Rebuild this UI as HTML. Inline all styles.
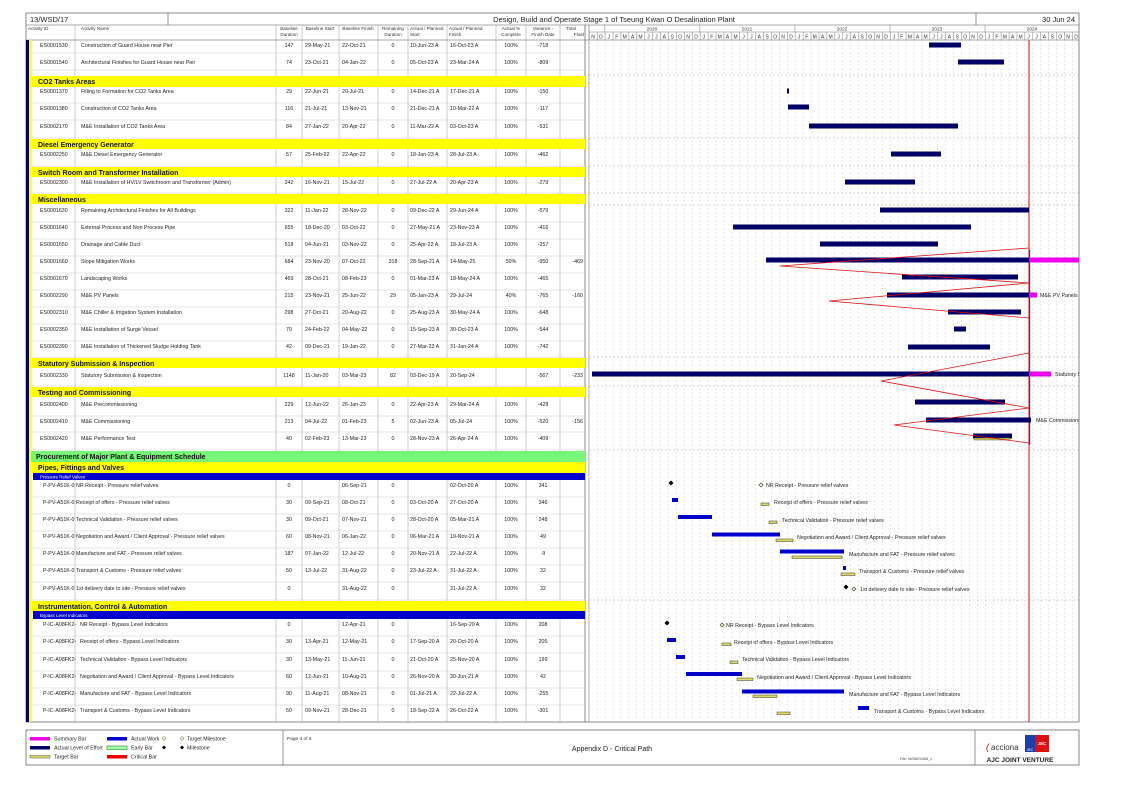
<!DOCTYPE html>
<html><head><meta charset="utf-8">
<style>
html,body{margin:0;padding:0;background:#fff;}
svg{display:block;font-family:"Liberation Sans",sans-serif;}
.t{font-size:5.3px;fill:#222;}
.c{font-size:5.3px;fill:#222;text-anchor:middle;}
.h{font-size:4.6px;fill:#333;}
.hc{font-size:4.6px;fill:#333;text-anchor:middle;}
.g{font-size:7px;font-weight:bold;fill:#111;}
.l{font-size:5.3px;fill:#222;}
</style></head><body>
<svg width="1123" height="794" viewBox="0 0 1123 794" xmlns="http://www.w3.org/2000/svg">
<defs>
<pattern id="vg" x="589" y="0" width="7.92" height="4" patternUnits="userSpaceOnUse">
<line x1="0.3" y1="0" x2="0.3" y2="2" stroke="#ccc" stroke-width="0.5"/>
</pattern>
<pattern id="mg" x="589" y="0" width="7.92" height="10" patternUnits="userSpaceOnUse">
<line x1="0.3" y1="0" x2="0.3" y2="10" stroke="#777" stroke-width="0.5"/>
</pattern>
<clipPath id="cc"><rect x="587" y="40" width="492" height="682"/></clipPath>
</defs>
<rect width="1123" height="794" fill="#fff"/>
<rect x="26" y="13" width="1053" height="709" fill="none" stroke="#555" stroke-width="0.7"/>
<line x1="26" y1="25" x2="1079" y2="25" stroke="#555" stroke-width="0.6"/>
<line x1="168" y1="13" x2="168" y2="25" stroke="#555" stroke-width="0.6"/>
<line x1="976" y1="13" x2="976" y2="25" stroke="#555" stroke-width="0.6"/>
<text x="30" y="22" font-size="7.5" fill="#222">13/WSD/17</text>
<text x="614" y="22" font-size="7.5" fill="#222" text-anchor="middle">Design, Build and Operate Stage 1 of Tseung Kwan O Desalination Plant</text>
<text x="1075" y="22" font-size="7.5" fill="#222" text-anchor="end">30 Jun 24</text>
<line x1="26" y1="40" x2="1079" y2="40" stroke="#555" stroke-width="0.6"/>
<g stroke="#999" stroke-width="0.5">
<line x1="75" y1="25" x2="75" y2="722"/>
<line x1="276" y1="25" x2="276" y2="722"/>
<line x1="302" y1="25" x2="302" y2="722"/>
<line x1="339" y1="25" x2="339" y2="722"/>
<line x1="378" y1="25" x2="378" y2="722"/>
<line x1="408" y1="25" x2="408" y2="722"/>
<line x1="447" y1="25" x2="447" y2="722"/>
<line x1="496" y1="25" x2="496" y2="722"/>
<line x1="526" y1="25" x2="526" y2="722"/>
<line x1="560" y1="25" x2="560" y2="722"/>
</g>
<line x1="585" y1="25" x2="585" y2="722" stroke="#555" stroke-width="0.7"/>
<line x1="589" y1="25" x2="589" y2="722" stroke="#555" stroke-width="0.5"/>
<text class="h" x="28" y="30">Activity ID</text>
<text class="h" x="81" y="30">Activity Name</text>
<text class="hc" x="289" y="30">Baseline</text><text class="hc" x="289" y="36">Duration</text>
<text class="hc" x="320" y="30">Baseline Start</text>
<text class="hc" x="358" y="30">Baseline Finish</text>
<text class="hc" x="393" y="30">Remaining</text><text class="hc" x="393" y="36">Duration</text>
<text class="h" x="410" y="30">Actual / Planned</text><text class="h" x="410" y="36">Start</text>
<text class="h" x="449" y="30">Actual / Planned</text><text class="h" x="449" y="36">Finish</text>
<text class="hc" x="511" y="30">Actual %</text><text class="hc" x="511" y="36">Complete</text>
<text class="hc" x="543" y="30">Variance -</text><text class="hc" x="543" y="36">Finish Date</text>
<text class="h" x="576" y="30" text-anchor="end">Total</text><text class="h" x="584" y="36" text-anchor="end">Float</text>
<line x1="589" y1="32" x2="1079" y2="32" stroke="#777" stroke-width="0.5"/>
<rect x="589" y="32" width="490" height="8" fill="url(#mg)"/>
<g stroke="#777" stroke-width="0.5">
<line x1="604.8" y1="25" x2="604.8" y2="32"/><line x1="699.9" y1="25" x2="699.9" y2="32"/>
<line x1="794.9" y1="25" x2="794.9" y2="32"/><line x1="890" y1="25" x2="890" y2="32"/><line x1="985" y1="25" x2="985" y2="32"/>
</g>
<g font-size="4.8" fill="#333" text-anchor="middle">
<text x="652" y="30.5">2020</text><text x="747" y="30.5">2021</text><text x="842" y="30.5">2022</text><text x="937" y="30.5">2023</text><text x="1032" y="30.5">2024</text>
</g>
<text font-size="5" fill="#333" text-anchor="middle" y="38.5" x="593 600.9 608.8 616.8 624.7 632.6 640.5 648.4 656.4 664.3 672.2 680.1 688 696 703.9 711.8 719.7 727.6 735.6 743.5 751.4 759.3 767.2 775.1 783.1 791 798.9 806.8 814.7 822.7 830.6 838.5 846.4 854.3 862.2 870.2 878.1 886 893.9 901.8 909.8 917.7 925.6 933.5 941.4 949.4 957.3 965.2 973.1 981 988.9 996.9 1004.8 1012.7 1020.6 1028.5 1036.5 1044.4 1052.3 1060.2 1068.1 1076.1">NDJFMAMJJASONDJFMAMJJASONDJFMAMJJASONDJFMAMJJASONDJFMAMJJASOND</text>
<rect x="589" y="40" width="490" height="682" fill="url(#vg)"/>
<g stroke="#aaa" stroke-width="0.5" stroke-dasharray="2,2">
<line x1="589" y1="75" x2="1079" y2="75"/><line x1="589" y1="138" x2="1079" y2="138"/>
<line x1="589" y1="166" x2="1079" y2="166"/><line x1="589" y1="193" x2="1079" y2="193"/>
<line x1="589" y1="205" x2="1079" y2="205"/><line x1="589" y1="357" x2="1079" y2="357"/>
<line x1="589" y1="386" x2="1079" y2="386"/><line x1="589" y1="450" x2="1079" y2="450"/>
<line x1="589" y1="600" x2="1079" y2="600"/>
</g>
<rect x="26" y="40" width="3" height="682" fill="#000066"/>
<rect x="29" y="40" width="2.5" height="682" fill="#ffff00"/>
<g stroke="#ccc" stroke-width="0.5">
<line x1="32" y1="53" x2="585" y2="53"/><line x1="32" y1="70" x2="585" y2="70"/>
<line x1="32" y1="103" x2="585" y2="103"/><line x1="32" y1="120" x2="585" y2="120"/><line x1="32" y1="138" x2="585" y2="138"/>
<line x1="32" y1="166" x2="585" y2="166"/><line x1="32" y1="193" x2="585" y2="193"/>
<line x1="32" y1="222" x2="585" y2="222"/><line x1="32" y1="239" x2="585" y2="239"/><line x1="32" y1="256" x2="585" y2="256"/>
<line x1="32" y1="273" x2="585" y2="273"/><line x1="32" y1="290" x2="585" y2="290"/><line x1="32" y1="307" x2="585" y2="307"/>
<line x1="32" y1="324" x2="585" y2="324"/><line x1="32" y1="341" x2="585" y2="341"/><line x1="32" y1="357" x2="585" y2="357"/>
<line x1="32" y1="386" x2="585" y2="386"/><line x1="32" y1="416" x2="585" y2="416"/><line x1="32" y1="432" x2="585" y2="432"/><line x1="32" y1="450" x2="585" y2="450"/>
<line x1="32" y1="497" x2="585" y2="497"/><line x1="32" y1="514" x2="585" y2="514"/><line x1="32" y1="531" x2="585" y2="531"/>
<line x1="32" y1="548" x2="585" y2="548"/><line x1="32" y1="565" x2="585" y2="565"/><line x1="32" y1="582" x2="585" y2="582"/><line x1="32" y1="600" x2="585" y2="600"/>
<line x1="32" y1="636" x2="585" y2="636"/><line x1="32" y1="653" x2="585" y2="653"/><line x1="32" y1="671" x2="585" y2="671"/>
<line x1="32" y1="688" x2="585" y2="688"/><line x1="32" y1="705" x2="585" y2="705"/>
</g>
<rect x="32" y="76" width="553" height="11" fill="#ffff00"/><text class="g" x="38" y="84">CO2 Tanks Areas</text>
<rect x="32" y="139" width="553" height="10" fill="#ffff00"/><text class="g" x="38" y="147">Diesel Emergency Generator</text>
<rect x="32" y="167" width="553" height="10" fill="#ffff00"/><text class="g" x="38" y="175">Switch Room and Transformer Installation</text>
<rect x="32" y="194" width="553" height="10" fill="#ffff00"/><text class="g" x="38" y="202">Miscellaneous</text>
<rect x="32" y="358" width="553" height="10" fill="#ffff00"/><text class="g" x="38" y="366">Statutory Submission &amp; Inspection</text>
<rect x="32" y="387" width="553" height="10" fill="#ffff00"/><text class="g" x="38" y="395">Testing and Commissioning</text>
<rect x="31" y="451" width="554" height="11" fill="#77f777"/><text class="g" x="36" y="459">Procurement of Major Plant &amp; Equipment Schedule</text>
<rect x="32" y="462" width="553" height="11" fill="#ffff00"/><text class="g" x="38" y="470">Pipes, Fittings and Valves</text>
<rect x="33" y="473" width="552" height="7" fill="#0000cc"/><text x="40" y="478.5" font-size="4.5" fill="#fff">Pressure Relief Valves</text>
<rect x="32" y="601" width="553" height="10" fill="#ffff00"/><text class="g" x="38" y="609">Instrumentation, Control &amp; Automation</text>
<rect x="33" y="611" width="552" height="8" fill="#0000cc"/><text x="40" y="617" font-size="4.5" fill="#fff">Bypass Level Indicators</text>
<g>
<text class="t" x="40" y="47">ES0001530</text><text class="t" x="81" y="47">Construction of Guard House near Pier</text><text class="c" x="289" y="47">147</text><text class="t" x="305" y="47">29-May-21</text><text class="t" x="342" y="47">22-Oct-21</text><text class="c" x="393" y="47">0</text><text class="t" x="410" y="47">10-Jun-23 A</text><text class="t" x="450" y="47">16-Oct-23 A</text><text class="c" x="511" y="47">100%</text><text class="c" x="543" y="47">-718</text>
<text class="t" x="40" y="64">ES0001540</text><text class="t" x="81" y="64">Architectural Finishes for Guard House near Pier</text><text class="c" x="289" y="64">74</text><text class="t" x="305" y="64">23-Oct-21</text><text class="t" x="342" y="64">04-Jan-22</text><text class="c" x="393" y="64">0</text><text class="t" x="410" y="64">05-Oct-23 A</text><text class="t" x="450" y="64">23-Mar-24 A</text><text class="c" x="511" y="64">100%</text><text class="c" x="543" y="64">-809</text>
<text class="t" x="40" y="93">ES0001370</text><text class="t" x="81" y="93">Filling to Formation for CO2 Tanks Area</text><text class="c" x="289" y="93">29</text><text class="t" x="305" y="93">22-Jun-21</text><text class="t" x="342" y="93">20-Jul-21</text><text class="c" x="393" y="93">0</text><text class="t" x="410" y="93">14-Dec-21 A</text><text class="t" x="450" y="93">17-Dec-21 A</text><text class="c" x="511" y="93">100%</text><text class="c" x="543" y="93">-150</text>
<text class="t" x="40" y="110">ES0001380</text><text class="t" x="81" y="110">Construction of CO2 Tanks Area</text><text class="c" x="289" y="110">116</text><text class="t" x="305" y="110">21-Jul-21</text><text class="t" x="342" y="110">13-Nov-21</text><text class="c" x="393" y="110">0</text><text class="t" x="410" y="110">21-Dec-21 A</text><text class="t" x="450" y="110">10-Mar-22 A</text><text class="c" x="511" y="110">100%</text><text class="c" x="543" y="110">-117</text>
<text class="t" x="40" y="128">ES0002170</text><text class="t" x="81" y="128">M&amp;E Installation of CO2 Tanks Area</text><text class="c" x="289" y="128">84</text><text class="t" x="305" y="128">27-Jan-22</text><text class="t" x="342" y="128">20-Apr-22</text><text class="c" x="393" y="128">0</text><text class="t" x="410" y="128">11-Mar-22 A</text><text class="t" x="450" y="128">03-Oct-23 A</text><text class="c" x="511" y="128">100%</text><text class="c" x="543" y="128">-531</text>
<text class="t" x="40" y="156">ES0002250</text><text class="t" x="81" y="156">M&amp;E Diesel Emergency Generator</text><text class="c" x="289" y="156">57</text><text class="t" x="305" y="156">25-Feb-22</text><text class="t" x="342" y="156">22-Apr-22</text><text class="c" x="393" y="156">0</text><text class="t" x="410" y="156">18-Jan-23 A</text><text class="t" x="450" y="156">28-Jul-23 A</text><text class="c" x="511" y="156">100%</text><text class="c" x="543" y="156">-462</text>
<text class="t" x="40" y="184">ES0002300</text><text class="t" x="81" y="184">M&amp;E Installation of HV/LV Switchroom and Transformer (Admin)</text><text class="c" x="289" y="184">242</text><text class="t" x="305" y="184">16-Nov-21</text><text class="t" x="342" y="184">15-Jul-22</text><text class="c" x="393" y="184">0</text><text class="t" x="410" y="184">27-Jul-22 A</text><text class="t" x="450" y="184">20-Apr-23 A</text><text class="c" x="511" y="184">100%</text><text class="c" x="543" y="184">-279</text>
<text class="t" x="40" y="212">ES0001630</text><text class="t" x="81" y="212">Remaining Architectural Finishes for All Buildings</text><text class="c" x="289" y="212">322</text><text class="t" x="305" y="212">11-Jan-22</text><text class="t" x="342" y="212">28-Nov-22</text><text class="c" x="393" y="212">0</text><text class="t" x="410" y="212">09-Dec-22 A</text><text class="t" x="450" y="212">29-Jun-24 A</text><text class="c" x="511" y="212">100%</text><text class="c" x="543" y="212">-579</text>
<text class="t" x="40" y="229">ES0001640</text><text class="t" x="81" y="229">External Process and Non Process Pipe</text><text class="c" x="289" y="229">655</text><text class="t" x="305" y="229">18-Dec-20</text><text class="t" x="342" y="229">03-Oct-22</text><text class="c" x="393" y="229">0</text><text class="t" x="410" y="229">27-May-21 A</text><text class="t" x="450" y="229">23-Nov-23 A</text><text class="c" x="511" y="229">100%</text><text class="c" x="543" y="229">-416</text>
<text class="t" x="40" y="246">ES0001650</text><text class="t" x="81" y="246">Drainage and Cable Duct</text><text class="c" x="289" y="246">518</text><text class="t" x="305" y="246">04-Jun-21</text><text class="t" x="342" y="246">03-Nov-22</text><text class="c" x="393" y="246">0</text><text class="t" x="410" y="246">25-Apr-22 A</text><text class="t" x="450" y="246">18-Jul-23 A</text><text class="c" x="511" y="246">100%</text><text class="c" x="543" y="246">-257</text>
<text class="t" x="40" y="263">ES0001660</text><text class="t" x="81" y="263">Slope Mitigation Works</text><text class="c" x="289" y="263">684</text><text class="t" x="305" y="263">23-Nov-20</text><text class="t" x="342" y="263">07-Oct-22</text><text class="c" x="393" y="263">318</text><text class="t" x="410" y="263">28-Sep-21 A</text><text class="t" x="450" y="263">14-May-25</text><text class="c" x="511" y="263">50%</text><text class="c" x="543" y="263">-950</text><text class="t" x="583" y="263" text-anchor="end">-469</text>
<text class="t" x="40" y="280">ES0001670</text><text class="t" x="81" y="280">Landscaping Works</text><text class="c" x="289" y="280">469</text><text class="t" x="305" y="280">28-Oct-21</text><text class="t" x="342" y="280">08-Feb-23</text><text class="c" x="393" y="280">0</text><text class="t" x="410" y="280">01-Mar-23 A</text><text class="t" x="450" y="280">18-May-24 A</text><text class="c" x="511" y="280">100%</text><text class="c" x="543" y="280">-465</text>
<text class="t" x="40" y="297">ES0002290</text><text class="t" x="81" y="297">M&amp;E PV Panels</text><text class="c" x="289" y="297">215</text><text class="t" x="305" y="297">23-Nov-21</text><text class="t" x="342" y="297">25-Jun-22</text><text class="c" x="393" y="297">29</text><text class="t" x="410" y="297">05-Jan-23 A</text><text class="t" x="450" y="297">29-Jul-24</text><text class="c" x="511" y="297">40%</text><text class="c" x="543" y="297">-765</text><text class="t" x="583" y="297" text-anchor="end">-160</text>
<text class="t" x="40" y="314">ES0002310</text><text class="t" x="81" y="314">M&amp;E Chiller &amp; Irrigation System Installation</text><text class="c" x="289" y="314">298</text><text class="t" x="305" y="314">27-Oct-21</text><text class="t" x="342" y="314">20-Aug-22</text><text class="c" x="393" y="314">0</text><text class="t" x="410" y="314">25-Aug-23 A</text><text class="t" x="450" y="314">30-May-24 A</text><text class="c" x="511" y="314">100%</text><text class="c" x="543" y="314">-648</text>
<text class="t" x="40" y="331">ES0002350</text><text class="t" x="81" y="331">M&amp;E Installation of Surge Vessel</text><text class="c" x="289" y="331">70</text><text class="t" x="305" y="331">24-Feb-22</text><text class="t" x="342" y="331">04-May-22</text><text class="c" x="393" y="331">0</text><text class="t" x="410" y="331">15-Sep-23 A</text><text class="t" x="450" y="331">30-Oct-23 A</text><text class="c" x="511" y="331">100%</text><text class="c" x="543" y="331">-544</text>
<text class="t" x="40" y="348">ES0002390</text><text class="t" x="81" y="348">M&amp;E Installation of Thickened Sludge Holding Tank</text><text class="c" x="289" y="348">42</text><text class="t" x="305" y="348">09-Dec-21</text><text class="t" x="342" y="348">19-Jan-22</text><text class="c" x="393" y="348">0</text><text class="t" x="410" y="348">27-Mar-23 A</text><text class="t" x="450" y="348">31-Jan-24 A</text><text class="c" x="511" y="348">100%</text><text class="c" x="543" y="348">-742</text>
<text class="t" x="40" y="377">ES0002330</text><text class="t" x="81" y="377">Statutory Submission &amp; Inspection</text><text class="c" x="289" y="377">1148</text><text class="t" x="305" y="377">11-Jan-20</text><text class="t" x="342" y="377">03-Mar-23</text><text class="c" x="393" y="377">82</text><text class="t" x="410" y="377">03-Dec-19 A</text><text class="t" x="450" y="377">20-Sep-24</text><text class="c" x="543" y="377">-567</text><text class="t" x="583" y="377" text-anchor="end">-233</text>
<text class="t" x="40" y="406">ES0002400</text><text class="t" x="81" y="406">M&amp;E Precommissioning</text><text class="c" x="289" y="406">229</text><text class="t" x="305" y="406">12-Jun-22</text><text class="t" x="342" y="406">26-Jan-23</text><text class="c" x="393" y="406">0</text><text class="t" x="410" y="406">22-Apr-23 A</text><text class="t" x="450" y="406">29-Mar-24 A</text><text class="c" x="511" y="406">100%</text><text class="c" x="543" y="406">-428</text>
<text class="t" x="40" y="423">ES0002410</text><text class="t" x="81" y="423">M&amp;E Commissioning</text><text class="c" x="289" y="423">213</text><text class="t" x="305" y="423">04-Jul-22</text><text class="t" x="342" y="423">01-Feb-23</text><text class="c" x="393" y="423">5</text><text class="t" x="410" y="423">02-Jun-23 A</text><text class="t" x="450" y="423">05-Jul-24</text><text class="c" x="511" y="423">100%</text><text class="c" x="543" y="423">-520</text><text class="t" x="583" y="423" text-anchor="end">-156</text>
<text class="t" x="40" y="440">ES0002420</text><text class="t" x="81" y="440">M&amp;E Performance Test</text><text class="c" x="289" y="440">40</text><text class="t" x="305" y="440">02-Feb-23</text><text class="t" x="342" y="440">13-Mar-23</text><text class="c" x="393" y="440">0</text><text class="t" x="410" y="440">28-Nov-23 A</text><text class="t" x="450" y="440">26-Apr-24 A</text><text class="c" x="511" y="440">100%</text><text class="c" x="543" y="440">-409</text>
<text class="t" x="43" y="487">P-PV-A51K-0</text><text class="t" x="76" y="487">NR Receipt - Pressure relief valves</text><text class="c" x="289" y="487">0</text><text class="t" x="342" y="487">06-Sep-21</text><text class="c" x="393" y="487">0</text><text class="t" x="450" y="487">02-Oct-20 A</text><text class="c" x="511" y="487">100%</text><text class="c" x="543" y="487">341</text>
<text class="t" x="43" y="504">P-PV-A51K-0</text><text class="t" x="76" y="504">Receipt of offers - Pressure relief valves</text><text class="c" x="289" y="504">30</text><text class="t" x="305" y="504">09-Sep-21</text><text class="t" x="342" y="504">08-Oct-21</text><text class="c" x="393" y="504">0</text><text class="t" x="410" y="504">03-Oct-20 A</text><text class="t" x="450" y="504">27-Oct-20 A</text><text class="c" x="511" y="504">100%</text><text class="c" x="543" y="504">346</text>
<text class="t" x="43" y="521">P-PV-A51K-0</text><text class="t" x="76" y="521">Technical Validation - Pressure relief valves</text><text class="c" x="289" y="521">30</text><text class="t" x="305" y="521">09-Oct-21</text><text class="t" x="342" y="521">07-Nov-21</text><text class="c" x="393" y="521">0</text><text class="t" x="410" y="521">28-Oct-20 A</text><text class="t" x="450" y="521">05-Mar-21 A</text><text class="c" x="511" y="521">100%</text><text class="c" x="543" y="521">248</text>
<text class="t" x="43" y="538">P-PV-A51K-0</text><text class="t" x="76" y="538">Negotiation and Award / Client Approval - Pressure relief valves</text><text class="c" x="289" y="538">60</text><text class="t" x="305" y="538">08-Nov-21</text><text class="t" x="342" y="538">06-Jan-22</text><text class="c" x="393" y="538">0</text><text class="t" x="410" y="538">06-Mar-21 A</text><text class="t" x="450" y="538">19-Nov-21 A</text><text class="c" x="511" y="538">100%</text><text class="c" x="543" y="538">49</text>
<text class="t" x="43" y="555">P-PV-A51K-0</text><text class="t" x="76" y="555">Manufacture and FAT - Pressure relief valves</text><text class="c" x="289" y="555">187</text><text class="t" x="305" y="555">07-Jan-22</text><text class="t" x="342" y="555">12-Jul-22</text><text class="c" x="393" y="555">0</text><text class="t" x="410" y="555">20-Nov-21 A</text><text class="t" x="450" y="555">22-Jul-22 A</text><text class="c" x="511" y="555">100%</text><text class="c" x="543" y="555">-9</text>
<text class="t" x="43" y="572">P-PV-A51K-0</text><text class="t" x="76" y="572">Transport &amp; Customs - Pressure relief valves</text><text class="c" x="289" y="572">50</text><text class="t" x="305" y="572">13-Jul-22</text><text class="t" x="342" y="572">31-Aug-22</text><text class="c" x="393" y="572">0</text><text class="t" x="410" y="572">23-Jul-22 A</text><text class="t" x="450" y="572">31-Jul-22 A</text><text class="c" x="511" y="572">100%</text><text class="c" x="543" y="572">32</text>
<text class="t" x="43" y="590">P-PV-A51K-0</text><text class="t" x="76" y="590">1st delivery date to site - Pressure relief valves</text><text class="c" x="289" y="590">0</text><text class="t" x="342" y="590">31-Aug-22</text><text class="c" x="393" y="590">0</text><text class="t" x="450" y="590">31-Jul-22 A</text><text class="c" x="511" y="590">100%</text><text class="c" x="543" y="590">32</text>
<text class="t" x="43" y="626">P-IC-A08FK2-</text><text class="t" x="80" y="626">NR Receipt - Bypass Level Indicators</text><text class="c" x="289" y="626">0</text><text class="t" x="342" y="626">12-Apr-21</text><text class="c" x="393" y="626">0</text><text class="t" x="450" y="626">16-Sep-20 A</text><text class="c" x="511" y="626">100%</text><text class="c" x="543" y="626">208</text>
<text class="t" x="43" y="643">P-IC-A08FK2-</text><text class="t" x="80" y="643">Receipt of offers - Bypass Level Indicators</text><text class="c" x="289" y="643">30</text><text class="t" x="305" y="643">13-Apr-21</text><text class="t" x="342" y="643">12-May-21</text><text class="c" x="393" y="643">0</text><text class="t" x="410" y="643">17-Sep-20 A</text><text class="t" x="450" y="643">20-Oct-20 A</text><text class="c" x="511" y="643">100%</text><text class="c" x="543" y="643">205</text>
<text class="t" x="43" y="661">P-IC-A08FK2-</text><text class="t" x="80" y="661">Technical Validation - Bypass Level Indicators</text><text class="c" x="289" y="661">30</text><text class="t" x="305" y="661">13-May-21</text><text class="t" x="342" y="661">11-Jun-21</text><text class="c" x="393" y="661">0</text><text class="t" x="410" y="661">21-Oct-20 A</text><text class="t" x="450" y="661">25-Nov-20 A</text><text class="c" x="511" y="661">100%</text><text class="c" x="543" y="661">199</text>
<text class="t" x="43" y="678">P-IC-A08FK2-</text><text class="t" x="80" y="678">Negotiation and Award / Client Approval - Bypass Level Indicators</text><text class="c" x="289" y="678">60</text><text class="t" x="305" y="678">12-Jun-21</text><text class="t" x="342" y="678">10-Aug-21</text><text class="c" x="393" y="678">0</text><text class="t" x="410" y="678">26-Nov-20 A</text><text class="t" x="450" y="678">30-Jun-21 A</text><text class="c" x="511" y="678">100%</text><text class="c" x="543" y="678">42</text>
<text class="t" x="43" y="695">P-IC-A08FK2-</text><text class="t" x="80" y="695">Manufacture and FAT - Bypass Level Indicators</text><text class="c" x="289" y="695">90</text><text class="t" x="305" y="695">11-Aug-21</text><text class="t" x="342" y="695">08-Nov-21</text><text class="c" x="393" y="695">0</text><text class="t" x="410" y="695">01-Jul-21 A</text><text class="t" x="450" y="695">22-Jul-22 A</text><text class="c" x="511" y="695">100%</text><text class="c" x="543" y="695">-255</text>
<text class="t" x="43" y="712">P-IC-A08FK2-</text><text class="t" x="80" y="712">Transport &amp; Customs - Bypass Level Indicators</text><text class="c" x="289" y="712">50</text><text class="t" x="305" y="712">09-Nov-21</text><text class="t" x="342" y="712">28-Dec-21</text><text class="c" x="393" y="712">0</text><text class="t" x="410" y="712">18-Sep-22 A</text><text class="t" x="450" y="712">26-Oct-22 A</text><text class="c" x="511" y="712">100%</text><text class="c" x="543" y="712">-301</text>
</g>
<g clip-path="url(#cc)">
<line x1="1029" y1="40" x2="1029" y2="722" stroke="#e00" stroke-width="1"/>
<line x1="1029.8" y1="250" x2="1029.8" y2="445" stroke="#2233dd" stroke-width="0.8"/>
<g fill="#000066">
<rect x="929" y="42.5" width="32" height="5"/>
<rect x="958" y="59.5" width="46" height="5"/>
<rect x="787" y="88.5" width="2" height="5"/>
<rect x="788" y="104.5" width="21" height="5"/>
<rect x="809" y="123.5" width="149" height="5"/>
<rect x="891" y="151.5" width="50" height="5"/>
<rect x="845" y="179.5" width="70" height="5"/>
<rect x="880" y="207.5" width="149" height="5"/>
<rect x="733" y="224.5" width="238" height="5"/>
<rect x="820" y="241.5" width="118" height="5"/>
<rect x="766" y="257.5" width="263" height="5"/>
<rect x="902" y="274.5" width="116" height="5"/>
<rect x="887" y="292.5" width="142" height="5"/>
<rect x="948" y="309.5" width="73" height="5"/>
<rect x="954" y="326.5" width="12" height="5"/>
<rect x="908" y="344.5" width="82" height="5"/>
<rect x="592" y="371.5" width="437" height="5"/>
<rect x="915" y="399.5" width="90" height="5"/>
<rect x="926" y="417.5" width="105" height="5"/>
<rect x="973" y="433.5" width="39" height="5"/>
</g>
<rect x="974" y="438" width="36" height="2" fill="#cccc44" stroke="#444" stroke-width="0.4"/>
<g fill="#ee00ee">
<rect x="1029" y="257.5" width="50" height="5"/>
<rect x="1029" y="292.5" width="8" height="5"/>
<rect x="1029" y="371.5" width="22" height="5"/>
</g>
<g font-size="5.3" fill="#222">
<text x="1040" y="297">M&amp;E PV Panels</text>
<text x="1055" y="376">Statutory Submission &amp; Inspection</text>
<text x="1036" y="422">M&amp;E Commissioning</text>
</g>
<polyline points="1029,248 780,266 1029,283 829,301 1029,318" fill="none" stroke="#dd1111" stroke-width="0.8"/>
<polyline points="1029,353 881,381 1029,408 894,425 1029,443" fill="none" stroke="#dd1111" stroke-width="0.8"/>
<g fill="#0000cc">
<rect x="672" y="498" width="6" height="4"/>
<rect x="678" y="515" width="34" height="4"/>
<rect x="712" y="532.5" width="68" height="4"/>
<rect x="780" y="549.5" width="64" height="4"/>
<rect x="843" y="566" width="3" height="4"/>
<rect x="667" y="638" width="9" height="4"/>
<rect x="676" y="655" width="9" height="4"/>
<rect x="686" y="672" width="56" height="4"/>
<rect x="742" y="689.5" width="102" height="4"/>
<rect x="858" y="706" width="11" height="4"/>
</g>
<g fill="#dddd66" stroke="#333" stroke-width="0.5">
<rect x="761" y="503" width="8" height="2.5"/>
<rect x="769" y="521" width="8" height="2.5"/>
<rect x="776" y="539" width="17" height="2.5"/>
<rect x="792" y="556" width="50" height="2.5"/>
<rect x="841" y="573" width="14" height="2.5"/>
<rect x="722" y="643" width="9" height="2.5"/>
<rect x="730" y="661" width="8" height="2.5"/>
<rect x="737" y="678" width="16" height="2.5"/>
<rect x="753" y="695" width="24" height="2.5"/>
<rect x="777" y="712" width="13" height="2.5"/>
</g>
<g fill="#000">
<path d="M671,480.5 l2.5,2.5 -2.5,2.5 -2.5,-2.5z"/>
<path d="M846,584.5 l2.5,2.5 -2.5,2.5 -2.5,-2.5z"/>
<path d="M667,620.5 l2.5,2.5 -2.5,2.5 -2.5,-2.5z"/>
</g>
<g fill="#ffffcc" stroke="#333" stroke-width="0.6">
<path d="M761,483 l2,2 -2,2 -2,-2z"/>
<path d="M854,587 l2,2 -2,2 -2,-2z"/>
<path d="M722,623 l2,2 -2,2 -2,-2z"/>
</g>
<g font-size="5.3" fill="#222">
<text x="766" y="487">NR Receipt - Pressure relief valves</text>
<text x="774" y="504">Receipt of offers - Pressure relief valves</text>
<text x="782" y="522">Technical Validation - Pressure relief valves</text>
<text x="797" y="539">Negotiation and Award / Client Approval - Pressure relief valves</text>
<text x="849" y="556">Manufacture and FAT - Pressure relief valves</text>
<text x="859" y="573">Transport &amp; Customs - Pressure relief valves</text>
<text x="860" y="591">1st delivery date to site - Pressure relief valves</text>
<text x="726" y="627">NR Receipt - Bypass Level Indicators</text>
<text x="734" y="644">Receipt of offers - Bypass Level Indicators</text>
<text x="742" y="661">Technical Validation - Bypass Level Indicators</text>
<text x="757" y="679">Negotiation and Award / Client Approval - Bypass Level Indicators</text>
<text x="849" y="696">Manufacture and FAT - Bypass Level Indicators</text>
<text x="874" y="713">Transport &amp; Customs - Bypass Level Indicators</text>
</g>
</g>
<rect x="26" y="730" width="1053" height="35" fill="none" stroke="#555" stroke-width="0.7"/>
<line x1="283" y1="730" x2="283" y2="765" stroke="#555" stroke-width="0.6"/>
<line x1="975" y1="730" x2="975" y2="765" stroke="#555" stroke-width="0.6"/>
<rect x="30" y="737" width="20" height="3.5" fill="#ee00ee"/><text class="l" x="54" y="740.5" font-size="4.6">Summary Bar</text>
<rect x="30" y="746" width="20" height="3.5" fill="#000066"/><text class="l" x="54" y="749.5" font-size="4.6">Actual Level of Effort</text>
<rect x="30" y="755.5" width="20" height="2.5" fill="#dddd66" stroke="#333" stroke-width="0.4"/><text class="l" x="54" y="758.5" font-size="4.6">Target Bar</text>
<rect x="107" y="737" width="20" height="3.5" fill="#0000cc"/><text class="l" x="131" y="740.5" font-size="4.6">Actual Work</text>
<rect x="107" y="746" width="20" height="3.5" fill="#aaffaa" stroke="#1a8a1a" stroke-width="0.6"/><text class="l" x="131" y="749.5" font-size="4.6">Early Bar</text>
<rect x="107" y="755" width="20" height="3.5" fill="#e00"/><text class="l" x="131" y="758.5" font-size="4.6">Critical Bar</text>
<path d="M164,736.5 l2,2 -2,2 -2,-2z" fill="#ffffcc" stroke="#333" stroke-width="0.5"/>
<path d="M164,745.5 l2,2 -2,2 -2,-2z" fill="#000"/>
<path d="M182,736.5 l2,2 -2,2 -2,-2z" fill="#ffffcc" stroke="#333" stroke-width="0.5"/><text class="l" x="187" y="740.5" font-size="4.6">Target Milestone</text>
<path d="M182,745.5 l2,2 -2,2 -2,-2z" fill="#000"/><text class="l" x="187" y="749.5" font-size="4.6">Milestone</text>
<text x="287" y="740" font-size="4.8" fill="#333">Page 4 of 5</text>
<text x="612" y="751" font-size="7" fill="#222" text-anchor="middle">Appendix D - Critical Path</text>
<text x="900" y="760" font-size="3.8" fill="#444">File: M/082/2406_c</text>
<text x="986" y="750" font-size="9" fill="#c00" font-style="italic">(</text>
<text x="991" y="750" font-size="8" fill="#333">acciona</text>
<rect x="1025" y="735" width="10" height="17" fill="#1a3fae"/>
<rect x="1035" y="735" width="14" height="17" fill="#dd1111"/>
<text x="1042" y="745" font-size="4.5" fill="#fff" text-anchor="middle" font-weight="bold">JEC</text>
<text x="1030" y="751" font-size="3.5" fill="#fff" text-anchor="middle">JEC</text>
<text x="1020" y="762" font-size="6.5" fill="#222" text-anchor="middle" font-weight="bold">AJC JOINT VENTURE</text>
</svg>
</body></html>
